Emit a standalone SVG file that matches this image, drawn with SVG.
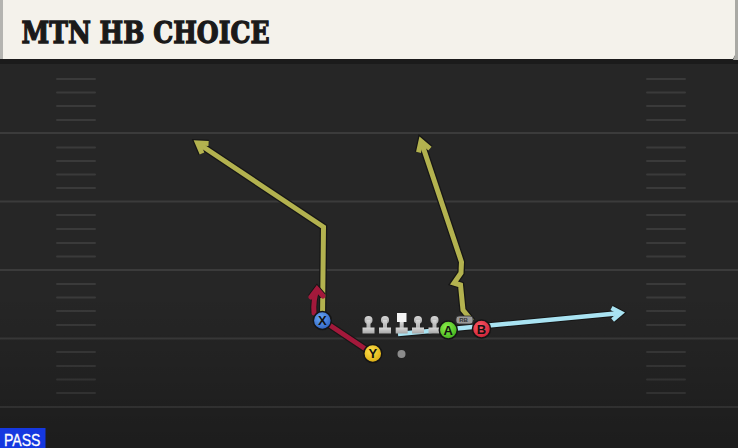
<svg xmlns="http://www.w3.org/2000/svg" width="738" height="448" viewBox="0 0 738 448">
<defs>
<style>
.yard{stroke:#3b3b3b;stroke-width:2}
.hash{stroke:#3a3a3a;stroke-width:2;stroke-linecap:round}
.out{fill:none;stroke:#161616;stroke-linejoin:miter;stroke-linecap:butt}
.yel{fill:none;stroke:#b3b24f;stroke-width:5;stroke-linejoin:miter}
.red{fill:none;stroke:#a3193b;stroke-width:5;stroke-linecap:round}
.blu{fill:none;stroke:#a9e3f2;stroke-width:4.5}
.lab{font-family:"Liberation Sans",Arial,sans-serif;font-weight:bold;font-size:13px;fill:#111;text-anchor:middle}
.pl{stroke:#151515;stroke-width:1.5}
.ol{fill:url(#gGray)}
</style>
<linearGradient id="vig" x1="0" y1="0" x2="0" y2="1">
<stop offset="0" stop-color="#000" stop-opacity="0"/>
<stop offset="0.6" stop-color="#000" stop-opacity="0"/>
<stop offset="1" stop-color="#000" stop-opacity="0.25"/>
</linearGradient>
<linearGradient id="gGray" x1="0" y1="0" x2="0" y2="1">
<stop offset="0" stop-color="#d8d8d8"/>
<stop offset="1" stop-color="#a8a8a8"/>
</linearGradient>
<radialGradient id="gB" cx="0.4" cy="0.35" r="0.7"><stop offset="0" stop-color="#6aa8f5"/><stop offset="1" stop-color="#2c5fc0"/></radialGradient>
<radialGradient id="gY" cx="0.4" cy="0.35" r="0.7"><stop offset="0" stop-color="#ffe04a"/><stop offset="1" stop-color="#d9a910"/></radialGradient>
<radialGradient id="gG" cx="0.4" cy="0.35" r="0.7"><stop offset="0" stop-color="#8cf04a"/><stop offset="1" stop-color="#3fae1c"/></radialGradient>
<radialGradient id="gR" cx="0.4" cy="0.35" r="0.7"><stop offset="0" stop-color="#ff5a68"/><stop offset="1" stop-color="#c81e32"/></radialGradient>
</defs>

<g id="field">
<rect x="0" y="0" width="738" height="448" fill="#262626"/>
<rect x="0" y="58" width="738" height="6" fill="#1b1b1b"/>
<line class="yard" x1="0" y1="133" x2="738" y2="133"/>
<line class="yard" x1="0" y1="201.5" x2="738" y2="201.5"/>
<line class="yard" x1="0" y1="270" x2="738" y2="270"/>
<line class="yard" x1="0" y1="338.5" x2="738" y2="338.5"/>
<line class="yard" x1="0" y1="407" x2="738" y2="407"/>
<g id="hashes">
<path class="hash" d="M57 79H95M57 92.5H95M57 106H95M57 120H95M57 147.5H95M57 161H95M57 174.5H95M57 188H95M57 215H95M57 229H95M57 243H95M57 256.5H95M57 284H95M57 297.5H95M57 311H95M57 325H95M57 352H95M57 366H95M57 379.5H95M57 393H95"/>
<path class="hash" d="M647 79H685M647 92.5H685M647 106H685M647 120H685M647 147.5H685M647 161H685M647 174.5H685M647 188H685M647 215H685M647 229H685M647 243H685M647 256.5H685M647 284H685M647 297.5H685M647 311H685M647 325H685M647 352H685M647 366H685M647 379.5H685M647 393H685"/>
</g>
<rect x="0" y="64" width="738" height="384" fill="url(#vig)"/>
</g>

<g id="header">
<polygon points="0,0 738,0 738,50 733,59 0,59" fill="#f4f2eb"/>
<rect x="0" y="0" width="3" height="59" fill="#b4b4b0"/>
<polygon points="735,0 738,0 738,60 733,60 735,55" fill="#a9a9a4"/>
<text x="21.5" y="42.5" font-family="'DejaVu Serif',serif" font-weight="bold" font-size="29" fill="#1a1a1a" stroke="#1a1a1a" stroke-width="1.3" stroke-linejoin="miter" textLength="248" lengthAdjust="spacingAndGlyphs">MTN HB CHOICE</text>
</g>

<g id="connectors">
<g id="route-x">
<polyline class="out" stroke-width="7.5" points="322.5,318 323.5,227 197.5,143"/>
<polyline class="out" stroke-width="7.5" points="208.6,143.5 197.5,143 202,153.5"/>
<polyline class="yel" points="322.5,318 323.5,227 197.5,143"/>
<polyline class="yel" points="208.6,143.5 197.5,143 202,153.5"/>
</g>
<g id="route-rb">
<polyline class="out" stroke-width="7.5" points="472,321 463,310 460.5,285 454,283 461,273 461.5,262 421,141"/>
<polyline class="out" stroke-width="7.5" points="430,148.6 421,141 418.5,152.4"/>
<polyline class="yel" points="472,321 463,310 460.5,285 454,283 461,273 461.5,262 421,141"/>
<polyline class="yel" points="430,148.6 421,141 418.5,152.4"/>
</g>
<g id="route-b">
<polyline class="out" stroke-width="6.5" points="398,334 621,313"/>
<polyline class="out" stroke-width="6.5" points="612.6,320 621,313 611.5,307.9"/>
<polyline class="blu" points="398,334 621,313"/>
<polyline class="blu" points="612.6,320 621,313 611.5,307.9"/>
</g>
<g id="route-y">
<path d="M373 354 L322 320" fill="none" stroke="#161616" stroke-width="7" stroke-linecap="round"/>
<path d="M373 354 L322 320" class="red"/>
<path d="M314 313 Q313 300 317 290" fill="none" stroke="#161616" stroke-width="7"/>
<path d="M311 297 L317 289 L323 296" fill="none" stroke="#161616" stroke-width="7"/>
<path d="M314 313 Q313 300 317 290" class="red" stroke-linecap="butt"/>
<path d="M311 297 L317 289 L323 296" class="red" stroke-linecap="butt" stroke-linejoin="miter"/>
</g>
</g>

<g id="line-l2">
<circle class="ol" cx="368.5" cy="320" r="4"/>
<rect class="ol" x="366.5" y="320" width="4" height="9"/>
<rect class="ol" x="362.5" y="327.5" width="12" height="6"/>
</g>
<g id="line-l1">
<circle class="ol" cx="385" cy="320" r="4"/>
<rect class="ol" x="383" y="320" width="4" height="9"/>
<rect class="ol" x="379" y="327.5" width="12" height="6"/>
</g>
<g id="line-c">
<rect x="397" y="313" width="9.5" height="9" fill="#f4f4f4"/>
<rect class="ol" x="399.7" y="322" width="4" height="7"/>
<rect class="ol" x="395.7" y="327.5" width="12" height="6"/>
</g>
<g id="line-r1">
<circle class="ol" cx="418" cy="320" r="4"/>
<rect class="ol" x="416" y="320" width="4" height="9"/>
<rect class="ol" x="412" y="327.5" width="12" height="6"/>
</g>
<g id="line-r2">
<circle class="ol" cx="434.5" cy="320" r="4"/>
<rect class="ol" x="432.5" y="320" width="4" height="9"/>
<rect class="ol" x="428.5" y="327.5" width="12" height="6"/>
</g>

<g id="ball"><circle cx="401.5" cy="354" r="4" fill="#8c8c8c"/></g>

<g id="rb-tag">
<rect x="456" y="316" width="17" height="8" rx="3" fill="#9a9a9a" stroke="#333" stroke-width="0.8"/>
<text x="463.5" y="322.3" font-family="'Liberation Sans',Arial,sans-serif" font-size="6" font-weight="bold" fill="#333" text-anchor="middle">RB</text>
</g>

<g id="player-x">
<circle class="pl" cx="322.3" cy="320.5" r="9" fill="url(#gB)"/>
<text class="lab" x="322.3" y="325">X</text>
</g>
<g id="player-y">
<circle class="pl" cx="372.8" cy="353.5" r="9" fill="url(#gY)"/>
<text class="lab" x="372.8" y="358">Y</text>
</g>
<g id="player-a">
<circle class="pl" cx="448.3" cy="330" r="9" fill="url(#gG)"/>
<text class="lab" x="448.3" y="334.5">A</text>
</g>
<g id="player-b">
<circle class="pl" cx="481.5" cy="329" r="9" fill="url(#gR)"/>
<text class="lab" x="481.5" y="333.5">B</text>
</g>

<g id="pass-tag">
<rect x="0" y="428" width="45.5" height="20" fill="#1538e0"/>
<text x="4" y="445.5" font-family="'Liberation Sans',Arial,sans-serif" font-size="16.5" fill="#ffffff" stroke="#ffffff" stroke-width="0.3" textLength="36.5" lengthAdjust="spacingAndGlyphs">PASS</text>
</g>
</svg>
